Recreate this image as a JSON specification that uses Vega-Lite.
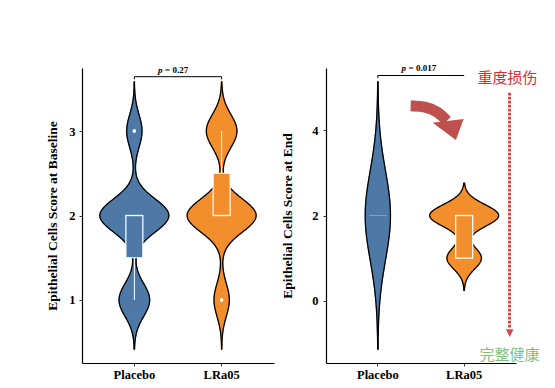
{
  "$schema": "https://vega.github.io/schema/vega-lite/v6.json",
  "padding": {"left": 45, "top": 64, "right": 0, "bottom": 0},
  "spacing": 6,
  "datasets": {
    "baseline": [
      {"group": "Placebo", "score": 1}, {"group": "Placebo", "score": 1}, {"group": "Placebo", "score": 1}, {"group": "Placebo", "score": 1},
      {"group": "Placebo", "score": 2}, {"group": "Placebo", "score": 2}, {"group": "Placebo", "score": 2}, {"group": "Placebo", "score": 2}, {"group": "Placebo", "score": 2},
      {"group": "Placebo", "score": 2}, {"group": "Placebo", "score": 2}, {"group": "Placebo", "score": 2}, {"group": "Placebo", "score": 2},
      {"group": "Placebo", "score": 3}, {"group": "Placebo", "score": 3},
      {"group": "LRa05", "score": 1}, {"group": "LRa05", "score": 1},
      {"group": "LRa05", "score": 2}, {"group": "LRa05", "score": 2}, {"group": "LRa05", "score": 2}, {"group": "LRa05", "score": 2}, {"group": "LRa05", "score": 2},
      {"group": "LRa05", "score": 2}, {"group": "LRa05", "score": 2}, {"group": "LRa05", "score": 2}, {"group": "LRa05", "score": 2},
      {"group": "LRa05", "score": 3}, {"group": "LRa05", "score": 3}, {"group": "LRa05", "score": 3}, {"group": "LRa05", "score": 3}
    ],
    "end": [
      {"group": "Placebo", "score": 2}, {"group": "Placebo", "score": 2}, {"group": "Placebo", "score": 2}, {"group": "Placebo", "score": 2}, {"group": "Placebo", "score": 2},
      {"group": "Placebo", "score": 2}, {"group": "Placebo", "score": 2}, {"group": "Placebo", "score": 2}, {"group": "Placebo", "score": 2}, {"group": "Placebo", "score": 2},
      {"group": "Placebo", "score": 2}, {"group": "Placebo", "score": 2}, {"group": "Placebo", "score": 2}, {"group": "Placebo", "score": 2}, {"group": "Placebo", "score": 2},
      {"group": "LRa05", "score": 1}, {"group": "LRa05", "score": 1}, {"group": "LRa05", "score": 1}, {"group": "LRa05", "score": 1}, {"group": "LRa05", "score": 1},
      {"group": "LRa05", "score": 2}, {"group": "LRa05", "score": 2}, {"group": "LRa05", "score": 2}, {"group": "LRa05", "score": 2}, {"group": "LRa05", "score": 2},
      {"group": "LRa05", "score": 2}, {"group": "LRa05", "score": 2}, {"group": "LRa05", "score": 2}, {"group": "LRa05", "score": 2}, {"group": "LRa05", "score": 2}
    ],
    "arrowBody": [
      {"gx": 1.38, "gy": 4.57},
      {"gx": 1.55, "gy": 4.56},
      {"gx": 1.70, "gy": 4.43},
      {"gx": 1.80, "gy": 4.22}
    ],
    "one": [{"k": 1}]
  },
  "hconcat": [
    {
      "width": 192,
      "height": 295,
      "data": {"name": "baseline"},
      "layer": [
        {
          "transform": [{"filter": "datum.group === 'Placebo'"}, {"density": "score", "bandwidth": 0.19539, "extent": [0.4138, 3.5862], "steps": 200, "as": ["score", "density"]}],
          "mark": {"type": "area", "orient": "horizontal", "fill": "#4E79A7", "stroke": "#4E79A7", "strokeWidth": 1, "opacity": 1},
          "encoding": {"x": {"field": "density", "type": "quantitative", "scale": {"domain": [-1.859, 4.959], "nice": false}, "axis": null},
                       "y": {"field": "score", "type": "quantitative", "title": "Epithelial Cells Score at Baseline", "scale": {"domain": [0.254, 3.746], "nice": false, "zero": false},
                             "axis": {"values": [1, 2, 3], "format": "d", "titlePadding": 9, "labelPadding": 4}}}
        },
        {
          "transform": [{"filter": "datum.group === 'Placebo'"}, {"density": "score", "bandwidth": 0.19539, "extent": [0.4138, 3.5862], "steps": 200, "as": ["score", "density"]}],
          "mark": {"type": "area", "orient": "horizontal", "fill": "#4E79A7", "stroke": "#4E79A7", "strokeWidth": 1, "opacity": 1},
          "encoding": {"x": {"field": "density", "type": "quantitative", "scale": {"domain": [-4.959, 1.859], "nice": false, "reverse": true}, "axis": null},
                       "y": {"field": "score", "type": "quantitative", "title": "Epithelial Cells Score at Baseline", "scale": {"domain": [0.254, 3.746], "nice": false, "zero": false}}}
        },
        {
          "transform": [{"filter": "datum.group === 'LRa05'"}, {"density": "score", "bandwidth": 0.19539, "extent": [0.4138, 3.5862], "steps": 200, "as": ["score", "density"]}],
          "mark": {"type": "area", "orient": "horizontal", "fill": "#F28E2B", "stroke": "#F28E2B", "strokeWidth": 1, "opacity": 1},
          "encoding": {"x": {"field": "density", "type": "quantitative", "scale": {"domain": [-4.959, 1.859], "nice": false}, "axis": null},
                       "y": {"field": "score", "type": "quantitative", "title": "Epithelial Cells Score at Baseline", "scale": {"domain": [0.254, 3.746], "nice": false, "zero": false}}}
        },
        {
          "transform": [{"filter": "datum.group === 'LRa05'"}, {"density": "score", "bandwidth": 0.19539, "extent": [0.4138, 3.5862], "steps": 200, "as": ["score", "density"]}],
          "mark": {"type": "area", "orient": "horizontal", "fill": "#F28E2B", "stroke": "#F28E2B", "strokeWidth": 1, "opacity": 1},
          "encoding": {"x": {"field": "density", "type": "quantitative", "scale": {"domain": [-1.859, 4.959], "nice": false, "reverse": true}, "axis": null},
                       "y": {"field": "score", "type": "quantitative", "title": "Epithelial Cells Score at Baseline", "scale": {"domain": [0.254, 3.746], "nice": false, "zero": false}}}
        },
        {
          "transform": [{"filter": "datum.group === 'Placebo'"}, {"density": "score", "bandwidth": 0.19539, "extent": [0.4138, 3.5862], "steps": 200, "as": ["score", "density"]}],
          "mark": {"type": "line", "color": "black", "strokeWidth": 1.3},
          "encoding": {"x": {"field": "density", "type": "quantitative", "scale": {"domain": [-1.859, 4.959], "nice": false}, "axis": null},
                       "y": {"field": "score", "type": "quantitative", "title": "Epithelial Cells Score at Baseline", "scale": {"domain": [0.254, 3.746], "nice": false, "zero": false}},
                       "order": {"field": "score", "type": "quantitative"}}
        },
        {
          "transform": [{"filter": "datum.group === 'Placebo'"}, {"density": "score", "bandwidth": 0.19539, "extent": [0.4138, 3.5862], "steps": 200, "as": ["score", "density"]}],
          "mark": {"type": "line", "color": "black", "strokeWidth": 1.3},
          "encoding": {"x": {"field": "density", "type": "quantitative", "scale": {"domain": [-4.959, 1.859], "nice": false, "reverse": true}, "axis": null},
                       "y": {"field": "score", "type": "quantitative", "title": "Epithelial Cells Score at Baseline", "scale": {"domain": [0.254, 3.746], "nice": false, "zero": false}},
                       "order": {"field": "score", "type": "quantitative"}}
        },
        {
          "transform": [{"filter": "datum.group === 'LRa05'"}, {"density": "score", "bandwidth": 0.19539, "extent": [0.4138, 3.5862], "steps": 200, "as": ["score", "density"]}],
          "mark": {"type": "line", "color": "black", "strokeWidth": 1.3},
          "encoding": {"x": {"field": "density", "type": "quantitative", "scale": {"domain": [-4.959, 1.859], "nice": false}, "axis": null},
                       "y": {"field": "score", "type": "quantitative", "title": "Epithelial Cells Score at Baseline", "scale": {"domain": [0.254, 3.746], "nice": false, "zero": false}},
                       "order": {"field": "score", "type": "quantitative"}}
        },
        {
          "transform": [{"filter": "datum.group === 'LRa05'"}, {"density": "score", "bandwidth": 0.19539, "extent": [0.4138, 3.5862], "steps": 200, "as": ["score", "density"]}],
          "mark": {"type": "line", "color": "black", "strokeWidth": 1.3},
          "encoding": {"x": {"field": "density", "type": "quantitative", "scale": {"domain": [-1.859, 4.959], "nice": false, "reverse": true}, "axis": null},
                       "y": {"field": "score", "type": "quantitative", "title": "Epithelial Cells Score at Baseline", "scale": {"domain": [0.254, 3.746], "nice": false, "zero": false}},
                       "order": {"field": "score", "type": "quantitative"}}
        },
        {
          "transform": [{"filter": "datum.group === 'Placebo'"}],
          "mark": {"type": "boxplot", "extent": 1.5, "size": 17, "ticks": false,
                   "box": {"fill": "#4E79A7", "stroke": "white", "strokeWidth": 1.2},
                   "median": {"color": "white", "thickness": 1.5},
                   "rule": {"color": "white", "strokeWidth": 1},
                   "outliers": {"color": "white", "filled": true, "size": 12, "opacity": 1}},
          "encoding": {"x": {"field": "group", "type": "nominal", "scale": {"type": "band", "domain": ["Placebo", "LRa05"], "paddingInner": 0.5, "paddingOuter": 0.35},
                             "axis": {"title": null, "labelAngle": 0, "labelPadding": 2, "bandPosition": 0.5}},
                       "y": {"field": "score", "type": "quantitative", "title": "Epithelial Cells Score at Baseline", "scale": {"domain": [0.254, 3.746], "nice": false, "zero": false}}}
        },
        {
          "transform": [{"filter": "datum.group === 'LRa05'"}],
          "mark": {"type": "boxplot", "extent": 1.5, "size": 17, "ticks": false,
                   "box": {"fill": "#F28E2B", "stroke": "white", "strokeWidth": 1.2},
                   "median": {"color": "white", "thickness": 1.5},
                   "rule": {"color": "white", "strokeWidth": 1},
                   "outliers": {"color": "white", "filled": true, "size": 12, "opacity": 1}},
          "encoding": {"x": {"field": "group", "type": "nominal", "scale": {"type": "band", "domain": ["Placebo", "LRa05"], "paddingInner": 0.5, "paddingOuter": 0.35}, "axis": null},
                       "y": {"field": "score", "type": "quantitative", "title": "Epithelial Cells Score at Baseline", "scale": {"domain": [0.254, 3.746], "nice": false, "zero": false}}}
        },
        {
          "data": {"name": "one"},
          "mark": {"type": "rule", "color": "black", "strokeWidth": 1},
          "encoding": {"x": {"datum": 1, "type": "quantitative", "scale": {"domain": [0.4, 2.6], "nice": false, "zero": false}, "axis": null},
                       "x2": {"datum": 2},
                       "y": {"datum": 3.643, "type": "quantitative", "title": "Epithelial Cells Score at Baseline", "scale": {"domain": [0.254, 3.746], "nice": false, "zero": false}}}
        },
        {
          "data": {"name": "one"},
          "mark": {"type": "rule", "color": "black", "strokeWidth": 1},
          "encoding": {"x": {"datum": 1, "type": "quantitative", "scale": {"domain": [0.4, 2.6], "nice": false, "zero": false}, "axis": null},
                       "y": {"datum": 3.643, "type": "quantitative", "title": "Epithelial Cells Score at Baseline", "scale": {"domain": [0.254, 3.746], "nice": false, "zero": false}},
                       "y2": {"datum": 3.612}}
        },
        {
          "data": {"name": "one"},
          "mark": {"type": "rule", "color": "black", "strokeWidth": 1},
          "encoding": {"x": {"datum": 2, "type": "quantitative", "scale": {"domain": [0.4, 2.6], "nice": false, "zero": false}, "axis": null},
                       "y": {"datum": 3.643, "type": "quantitative", "title": "Epithelial Cells Score at Baseline", "scale": {"domain": [0.254, 3.746], "nice": false, "zero": false}},
                       "y2": {"datum": 3.612}}
        },
        {
          "data": {"name": "one"},
          "mark": {"type": "text", "text": "p", "font": "Liberation Serif", "fontStyle": "italic", "fontWeight": "bold", "fontSize": 9, "align": "right", "baseline": "alphabetic", "dx": -15.5, "color": "black"},
          "encoding": {"x": {"datum": 1.5, "type": "quantitative", "scale": {"domain": [0.4, 2.6], "nice": false, "zero": false}, "axis": null},
                       "y": {"datum": 3.692, "type": "quantitative", "title": "Epithelial Cells Score at Baseline", "scale": {"domain": [0.254, 3.746], "nice": false, "zero": false}}}
        },
        {
          "data": {"name": "one"},
          "mark": {"type": "text", "text": "= 0.27", "font": "Liberation Serif", "fontWeight": "bold", "fontSize": 9, "align": "left", "baseline": "alphabetic", "dx": -13, "color": "black"},
          "encoding": {"x": {"datum": 1.5, "type": "quantitative", "scale": {"domain": [0.4, 2.6], "nice": false, "zero": false}, "axis": null},
                       "y": {"datum": 3.692, "type": "quantitative", "title": "Epithelial Cells Score at Baseline", "scale": {"domain": [0.254, 3.746], "nice": false, "zero": false}}}
        }
      ],
      "resolve": {"scale": {"x": "independent"}}
    },
    {
      "width": 190,
      "height": 295,
      "data": {"name": "end"},
      "layer": [
        {
          "transform": [{"filter": "datum.group === 'Placebo'"}, {"density": "score", "bandwidth": 1.04728, "extent": [-1.1418, 5.1418], "steps": 200, "as": ["score", "density"]}],
          "mark": {"type": "area", "orient": "horizontal", "fill": "#4E79A7", "stroke": "#4E79A7", "strokeWidth": 1, "opacity": 1},
          "encoding": {"x": {"field": "density", "type": "quantitative", "scale": {"domain": [-1.564, 4.169], "nice": false}, "axis": null},
                       "y": {"field": "score", "type": "quantitative", "title": "Epithelial Cells Score at End", "scale": {"domain": [-1.456, 5.456], "nice": false, "zero": false},
                             "axis": {"values": [0, 2, 4], "format": "d", "titlePadding": 17, "labelPadding": 5}}}
        },
        {
          "transform": [{"filter": "datum.group === 'Placebo'"}, {"density": "score", "bandwidth": 1.04728, "extent": [-1.1418, 5.1418], "steps": 200, "as": ["score", "density"]}],
          "mark": {"type": "area", "orient": "horizontal", "fill": "#4E79A7", "stroke": "#4E79A7", "strokeWidth": 1, "opacity": 1},
          "encoding": {"x": {"field": "density", "type": "quantitative", "scale": {"domain": [-4.169, 1.564], "nice": false, "reverse": true}, "axis": null},
                       "y": {"field": "score", "type": "quantitative", "title": "Epithelial Cells Score at End", "scale": {"domain": [-1.456, 5.456], "nice": false, "zero": false}}}
        },
        {
          "transform": [{"filter": "datum.group === 'LRa05'"}, {"density": "score", "bandwidth": 0.25551, "extent": [0.2335, 2.7665], "steps": 200, "as": ["score", "density"]}],
          "mark": {"type": "area", "orient": "horizontal", "fill": "#F28E2B", "stroke": "#F28E2B", "strokeWidth": 1, "opacity": 1},
          "encoding": {"x": {"field": "density", "type": "quantitative", "scale": {"domain": [-4.169, 1.564], "nice": false}, "axis": null},
                       "y": {"field": "score", "type": "quantitative", "title": "Epithelial Cells Score at End", "scale": {"domain": [-1.456, 5.456], "nice": false, "zero": false}}}
        },
        {
          "transform": [{"filter": "datum.group === 'LRa05'"}, {"density": "score", "bandwidth": 0.25551, "extent": [0.2335, 2.7665], "steps": 200, "as": ["score", "density"]}],
          "mark": {"type": "area", "orient": "horizontal", "fill": "#F28E2B", "stroke": "#F28E2B", "strokeWidth": 1, "opacity": 1},
          "encoding": {"x": {"field": "density", "type": "quantitative", "scale": {"domain": [-1.564, 4.169], "nice": false, "reverse": true}, "axis": null},
                       "y": {"field": "score", "type": "quantitative", "title": "Epithelial Cells Score at End", "scale": {"domain": [-1.456, 5.456], "nice": false, "zero": false}}}
        },
        {
          "transform": [{"filter": "datum.group === 'Placebo'"}, {"density": "score", "bandwidth": 1.04728, "extent": [-1.1418, 5.1418], "steps": 200, "as": ["score", "density"]}],
          "mark": {"type": "line", "color": "black", "strokeWidth": 1.3},
          "encoding": {"x": {"field": "density", "type": "quantitative", "scale": {"domain": [-1.564, 4.169], "nice": false}, "axis": null},
                       "y": {"field": "score", "type": "quantitative", "title": "Epithelial Cells Score at End", "scale": {"domain": [-1.456, 5.456], "nice": false, "zero": false}},
                       "order": {"field": "score", "type": "quantitative"}}
        },
        {
          "transform": [{"filter": "datum.group === 'Placebo'"}, {"density": "score", "bandwidth": 1.04728, "extent": [-1.1418, 5.1418], "steps": 200, "as": ["score", "density"]}],
          "mark": {"type": "line", "color": "black", "strokeWidth": 1.3},
          "encoding": {"x": {"field": "density", "type": "quantitative", "scale": {"domain": [-4.169, 1.564], "nice": false, "reverse": true}, "axis": null},
                       "y": {"field": "score", "type": "quantitative", "title": "Epithelial Cells Score at End", "scale": {"domain": [-1.456, 5.456], "nice": false, "zero": false}},
                       "order": {"field": "score", "type": "quantitative"}}
        },
        {
          "transform": [{"filter": "datum.group === 'LRa05'"}, {"density": "score", "bandwidth": 0.25551, "extent": [0.2335, 2.7665], "steps": 200, "as": ["score", "density"]}],
          "mark": {"type": "line", "color": "black", "strokeWidth": 1.3},
          "encoding": {"x": {"field": "density", "type": "quantitative", "scale": {"domain": [-4.169, 1.564], "nice": false}, "axis": null},
                       "y": {"field": "score", "type": "quantitative", "title": "Epithelial Cells Score at End", "scale": {"domain": [-1.456, 5.456], "nice": false, "zero": false}},
                       "order": {"field": "score", "type": "quantitative"}}
        },
        {
          "transform": [{"filter": "datum.group === 'LRa05'"}, {"density": "score", "bandwidth": 0.25551, "extent": [0.2335, 2.7665], "steps": 200, "as": ["score", "density"]}],
          "mark": {"type": "line", "color": "black", "strokeWidth": 1.3},
          "encoding": {"x": {"field": "density", "type": "quantitative", "scale": {"domain": [-1.564, 4.169], "nice": false, "reverse": true}, "axis": null},
                       "y": {"field": "score", "type": "quantitative", "title": "Epithelial Cells Score at End", "scale": {"domain": [-1.456, 5.456], "nice": false, "zero": false}},
                       "order": {"field": "score", "type": "quantitative"}}
        },
        {
          "transform": [{"filter": "datum.group === 'Placebo'"}],
          "mark": {"type": "boxplot", "extent": 1.5, "size": 17, "ticks": false,
                   "box": {"fill": "#4E79A7", "stroke": "white", "strokeWidth": 1.2},
                   "median": {"color": "white", "thickness": 1.5},
                   "rule": {"color": "white", "strokeWidth": 1},
                   "outliers": {"color": "white", "filled": true, "size": 12, "opacity": 1}},
          "encoding": {"x": {"field": "group", "type": "nominal", "scale": {"type": "band", "domain": ["Placebo", "LRa05"], "paddingInner": 0.5, "paddingOuter": 0.35},
                             "axis": {"title": null, "labelAngle": 0, "labelPadding": 2, "bandPosition": 0.5}},
                       "y": {"field": "score", "type": "quantitative", "title": "Epithelial Cells Score at End", "scale": {"domain": [-1.456, 5.456], "nice": false, "zero": false}}}
        },
        {
          "transform": [{"filter": "datum.group === 'LRa05'"}],
          "mark": {"type": "boxplot", "extent": 1.5, "size": 17, "ticks": false,
                   "box": {"fill": "#F28E2B", "stroke": "white", "strokeWidth": 1.2},
                   "median": {"color": "white", "thickness": 1.5},
                   "rule": {"color": "white", "strokeWidth": 1},
                   "outliers": {"color": "white", "filled": true, "size": 12, "opacity": 1}},
          "encoding": {"x": {"field": "group", "type": "nominal", "scale": {"type": "band", "domain": ["Placebo", "LRa05"], "paddingInner": 0.5, "paddingOuter": 0.35}, "axis": null},
                       "y": {"field": "score", "type": "quantitative", "title": "Epithelial Cells Score at End", "scale": {"domain": [-1.456, 5.456], "nice": false, "zero": false}}}
        },
        {
          "data": {"name": "one"},
          "mark": {"type": "rule", "color": "black", "strokeWidth": 1},
          "encoding": {"x": {"datum": 1, "type": "quantitative", "scale": {"domain": [0.4, 2.6], "nice": false, "zero": false}, "axis": null},
                       "x2": {"datum": 2},
                       "y": {"datum": 5.28, "type": "quantitative", "title": "Epithelial Cells Score at End", "scale": {"domain": [-1.456, 5.456], "nice": false, "zero": false}}}
        },
        {
          "data": {"name": "one"},
          "mark": {"type": "rule", "color": "black", "strokeWidth": 1},
          "encoding": {"x": {"datum": 1, "type": "quantitative", "scale": {"domain": [0.4, 2.6], "nice": false, "zero": false}, "axis": null},
                       "y": {"datum": 5.28, "type": "quantitative", "title": "Epithelial Cells Score at End", "scale": {"domain": [-1.456, 5.456], "nice": false, "zero": false}},
                       "y2": {"datum": 5.22}}
        },
        {
          "data": {"name": "one"},
          "mark": {"type": "text", "text": "p", "font": "Liberation Serif", "fontStyle": "italic", "fontWeight": "bold", "fontSize": 9, "align": "right", "baseline": "alphabetic", "dx": -15, "color": "black"},
          "encoding": {"x": {"datum": 1.5, "type": "quantitative", "scale": {"domain": [0.4, 2.6], "nice": false, "zero": false}, "axis": null},
                       "y": {"datum": 5.376, "type": "quantitative", "title": "Epithelial Cells Score at End", "scale": {"domain": [-1.456, 5.456], "nice": false, "zero": false}}}
        },
        {
          "data": {"name": "one"},
          "mark": {"type": "text", "text": "= 0.017", "font": "Liberation Serif", "fontWeight": "bold", "fontSize": 9, "align": "left", "baseline": "alphabetic", "dx": -12.5, "color": "black"},
          "encoding": {"x": {"datum": 1.5, "type": "quantitative", "scale": {"domain": [0.4, 2.6], "nice": false, "zero": false}, "axis": null},
                       "y": {"datum": 5.376, "type": "quantitative", "title": "Epithelial Cells Score at End", "scale": {"domain": [-1.456, 5.456], "nice": false, "zero": false}}}
        },
        {
          "data": {"name": "one"},
          "mark": {"type": "rule", "color": "#d64545", "strokeWidth": 3, "strokeDash": [2.7, 1.3]},
          "encoding": {"x": {"datum": 2.525, "type": "quantitative", "scale": {"domain": [0.4, 2.6], "nice": false, "zero": false}, "axis": null},
                       "y": {"datum": 4.877, "type": "quantitative", "title": "Epithelial Cells Score at End", "scale": {"domain": [-1.456, 5.456], "nice": false, "zero": false}},
                       "y2": {"datum": -0.64}}
        },
        {
          "data": {"name": "one"},
          "mark": {"type": "point", "shape": "M -1 -1 L 1 -1 L 0 1.1 Z", "size": 56, "filled": true, "color": "#d64545", "opacity": 1},
          "encoding": {"x": {"datum": 2.527, "type": "quantitative", "scale": {"domain": [0.4, 2.6], "nice": false, "zero": false}, "axis": null},
                       "y": {"datum": -0.753, "type": "quantitative", "title": "Epithelial Cells Score at End", "scale": {"domain": [-1.456, 5.456], "nice": false, "zero": false}}}
        },
        {
          "data": {"name": "one"},
          "mark": {"type": "text", "text": "重度损伤", "font": "Noto Sans CJK SC", "fontSize": 15, "align": "center", "baseline": "middle", "color": "#e02b2b"},
          "encoding": {"x": {"datum": 2.503, "type": "quantitative", "scale": {"domain": [0.4, 2.6], "nice": false, "zero": false}, "axis": null},
                       "y": {"datum": 5.22, "type": "quantitative", "title": "Epithelial Cells Score at End", "scale": {"domain": [-1.456, 5.456], "nice": false, "zero": false}}}
        },
        {
          "data": {"name": "one"},
          "mark": {"type": "text", "text": "完整健康", "font": "Noto Sans CJK SC", "fontSize": 15, "align": "center", "baseline": "middle", "color": "#7fbf7f"},
          "encoding": {"x": {"datum": 2.526, "type": "quantitative", "scale": {"domain": [0.4, 2.6], "nice": false, "zero": false}, "axis": null},
                       "y": {"datum": -1.28, "type": "quantitative", "title": "Epithelial Cells Score at End", "scale": {"domain": [-1.456, 5.456], "nice": false, "zero": false}}}
        },
        {
          "data": {"name": "arrowBody"},
          "mark": {"type": "line", "color": "#c0504d", "strokeWidth": 11, "interpolate": "basis", "strokeCap": "butt"},
          "encoding": {"x": {"field": "gx", "type": "quantitative", "scale": {"domain": [0.4, 2.6], "nice": false, "zero": false}, "axis": null},
                       "y": {"field": "gy", "type": "quantitative", "title": "Epithelial Cells Score at End", "scale": {"domain": [-1.456, 5.456], "nice": false, "zero": false}}}
        },
        {
          "data": {"name": "one"},
          "mark": {"type": "point", "shape": "M -1.207 -0.3 L 0.86 -0.547 L 0.347 0.853 Z", "size": 900, "filled": true, "color": "#c0504d", "opacity": 1},
          "encoding": {"x": {"datum": 1.844, "type": "quantitative", "scale": {"domain": [0.4, 2.6], "nice": false, "zero": false}, "axis": null},
                       "y": {"datum": 4.066, "type": "quantitative", "title": "Epithelial Cells Score at End", "scale": {"domain": [-1.456, 5.456], "nice": false, "zero": false}}}
        }
      ],
      "resolve": {"scale": {"x": "independent"}}
    }
  ],
  "config": {
    "view": {"stroke": null},
    "font": "Liberation Serif",
    "axis": {"domainColor": "black", "domainWidth": 1.2, "tickColor": "#333333", "tickSize": 3, "tickWidth": 1,
             "labelFont": "Liberation Serif", "labelFontWeight": "bold", "labelFontSize": 12.5, "labelColor": "black",
             "titleFont": "Liberation Serif", "titleFontWeight": "bold", "titleFontSize": 13.5, "titleColor": "black", "grid": false}
  }
}
